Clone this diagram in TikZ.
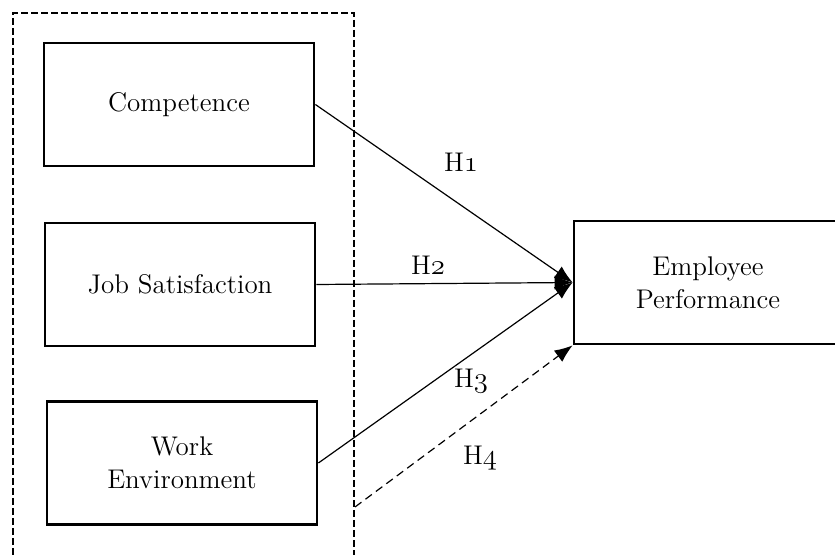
\documentclass[tikz,border=0pt]{standalone}
\usepackage{fontspec}
\usetikzlibrary{arrows.meta}

\tikzset{
  varbox/.style={draw,rectangle,line width=1.4pt,minimum width=135pt,minimum height=61.5pt,
    align=center,font=\fontsize{13.5}{16.5}\selectfont},
  hyp/.style={font=\fontsize{13.5}{16.5}\selectfont},
  link/.style={-{Latex[length=9pt,width=7pt]},line width=0.6pt}
}
\newcommand{\hnum}[1]{H$\mathnormal{#1}$}

\begin{document}
\begin{tikzpicture}[x=0.5pt,y=-0.5pt]
  \useasboundingbox (0,0) rectangle (835,555);

  % group of independent variables
  \draw[line width=1.1pt,dash pattern=on 3.5pt off 1.5pt] (13,565) -- (13,13) -- (354,13) -- (354,565);
  \coordinate (gr) at (355,507);

  \node[varbox] (comp) at (179,104.5) {Competence};
  \node[varbox] (job) at (180,284.5) {Job Satisfaction};
  \node[varbox] (work) at (182,463) {Work\\Environment};

  \node[varbox,minimum width=134pt] (perf) at (708,282.5) {Employee\\Performance};

  \draw[link] (comp.east) -- (perf.west);
  \draw[link] (job.east) -- (perf.west);
  \draw[link] (work.east) -- (perf.west);
  \draw[link,dash pattern=on 4pt off 2.5pt] (gr) -- (perf.south west);

  \node[hyp] (h1) at (461,162) {\hnum{1}};
  \node[hyp] (h2) at (428,265) {\hnum{2}};
  \node[hyp] (h3) at (471,381) {\hnum{3}};
  \node[hyp] (h4) at (480,458) {\hnum{4}};

\end{tikzpicture}
\end{document}
